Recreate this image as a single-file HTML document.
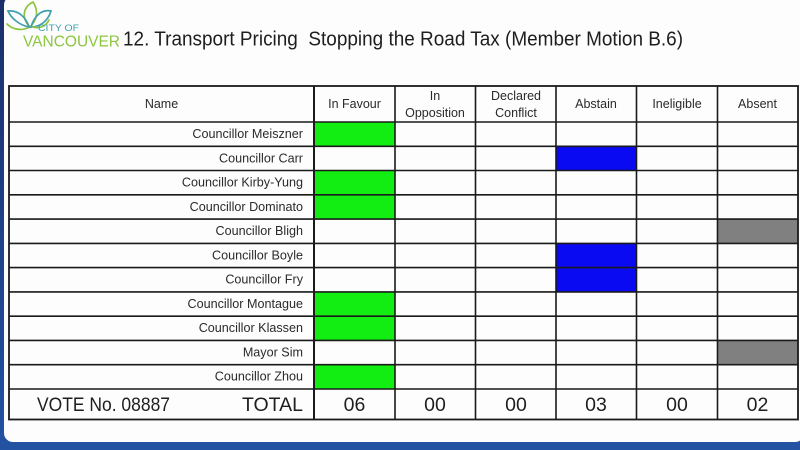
<!DOCTYPE html>
<html><head><meta charset="utf-8"><style>
html,body{margin:0;padding:0;width:800px;height:450px;overflow:hidden;background:#1d3d86;}
svg{display:block;font-family:"Liberation Sans","DejaVu Sans",sans-serif;}
</style></head><body>
<svg width="800" height="450" viewBox="0 0 800 450" xmlns="http://www.w3.org/2000/svg">
<defs>
<linearGradient id="bg" x1="0" y1="0" x2="0" y2="1">
<stop offset="0" stop-color="#1a2f6a"/><stop offset="1" stop-color="#2352a3"/>
</linearGradient>
</defs>
<rect x="0" y="0" width="800" height="450" fill="url(#bg)"/>
<rect x="4" y="-4" width="800" height="446" rx="9" fill="#fdfdfd"/>

<!-- logo leaves -->
<g fill="none" stroke-width="1.7" stroke-linecap="round">
<path d="M30 27 C21 18 23 7 33 2 C39 11 37 20 30 27Z" stroke="#8cc63f"/>
<path d="M31 27 C34 16 42 9 51 11 C48 21 40 27 31 27Z" stroke="#3f9fae"/>
<path d="M29 27 C19 25 11 18 8 11 C18 10 26 17 29 27Z" stroke="#3f9fae"/>
<path d="M28 28 C20 31 12 29 7 24" stroke="#8cc63f"/>
<path d="M33 27 C40 29 46 26 49 20" stroke="#8cc63f"/>
</g>
<text x="38" y="31" font-size="9.5" fill="#3f9fae" textLength="41" lengthAdjust="spacingAndGlyphs">CITY OF</text>
<text x="23" y="46.5" font-size="16" fill="#8cc63f" textLength="97" lengthAdjust="spacingAndGlyphs">VANCOUVER</text>

<text x="123" y="45.5" font-size="20.5" fill="#1e1e1e" xml:space="preserve" textLength="560" lengthAdjust="spacingAndGlyphs">12. Transport Pricing  Stopping the Road Tax (Member Motion B.6)</text>

<!-- colored cells -->
<g>
<rect x="314" y="122" width="81" height="24.3" fill="#12ee12"/>
<rect x="556" y="146.3" width="80.5" height="24.2" fill="#0a0af2"/>
<rect x="314" y="170.5" width="81" height="24.3" fill="#12ee12"/>
<rect x="314" y="194.8" width="81" height="24.3" fill="#12ee12"/>
<rect x="717.5" y="219.1" width="80.5" height="24.3" fill="#808080"/>
<rect x="556" y="243.4" width="80.5" height="24.2" fill="#0a0af2"/>
<rect x="556" y="267.6" width="80.5" height="24.3" fill="#0a0af2"/>
<rect x="314" y="291.9" width="81" height="24.3" fill="#12ee12"/>
<rect x="314" y="316.2" width="81" height="24.2" fill="#12ee12"/>
<rect x="717.5" y="340.4" width="80.5" height="24.3" fill="#808080"/>
<rect x="314" y="364.7" width="81" height="24.3" fill="#12ee12"/>
</g>

<!-- grid -->
<g stroke="#1a1a1a" stroke-width="1.6" fill="none">
<rect x="9" y="86" width="789" height="333.5" stroke-width="1.8"/>
<line x1="9" y1="122" x2="798" y2="122"/>
<line x1="9" y1="146.3" x2="798" y2="146.3"/>
<line x1="9" y1="170.5" x2="798" y2="170.5"/>
<line x1="9" y1="194.8" x2="798" y2="194.8"/>
<line x1="9" y1="219.1" x2="798" y2="219.1"/>
<line x1="9" y1="243.4" x2="798" y2="243.4"/>
<line x1="9" y1="267.6" x2="798" y2="267.6"/>
<line x1="9" y1="291.9" x2="798" y2="291.9"/>
<line x1="9" y1="316.2" x2="798" y2="316.2"/>
<line x1="9" y1="340.4" x2="798" y2="340.4"/>
<line x1="9" y1="364.7" x2="798" y2="364.7"/>
<line x1="9" y1="389" x2="798" y2="389"/>
<line x1="314" y1="86" x2="314" y2="419.5" stroke-width="2"/>
<line x1="395" y1="86" x2="395" y2="419.5"/>
<line x1="475.5" y1="86" x2="475.5" y2="419.5"/>
<line x1="556" y1="86" x2="556" y2="419.5"/>
<line x1="636.5" y1="86" x2="636.5" y2="419.5"/>
<line x1="717.5" y1="86" x2="717.5" y2="419.5"/>
</g>

<!-- header -->
<g font-size="12.5" fill="#2a2a2a" text-anchor="middle">
<text x="161.5" y="108">Name</text>
<text x="354.5" y="108">In Favour</text>
<text x="435" y="100">In</text>
<text x="435" y="117">Opposition</text>
<text x="516" y="100">Declared</text>
<text x="516" y="117">Conflict</text>
<text x="596" y="108">Abstain</text>
<text x="677" y="108">Ineligible</text>
<text x="757.5" y="108">Absent</text>
</g>

<!-- names -->
<g font-size="12.6" fill="#2a2a2a" text-anchor="end">
<text x="303" y="138">Councillor Meiszner</text>
<text x="303" y="162.3">Councillor Carr</text>
<text x="303" y="186.5">Councillor Kirby-Yung</text>
<text x="303" y="210.8">Councillor Dominato</text>
<text x="303" y="235.1">Councillor Bligh</text>
<text x="303" y="259.4">Councillor Boyle</text>
<text x="303" y="283.6">Councillor Fry</text>
<text x="303" y="307.9">Councillor Montague</text>
<text x="303" y="332.2">Councillor Klassen</text>
<text x="303" y="356.4">Mayor Sim</text>
<text x="303" y="380.7">Councillor Zhou</text>
</g>

<!-- totals -->
<g font-size="19.5" fill="#1e1e1e">
<text x="37" y="411" textLength="133" lengthAdjust="spacingAndGlyphs">VOTE No. 08887</text>
<text x="303" y="411" text-anchor="end">TOTAL</text>
<g text-anchor="middle">
<text x="354.5" y="411">06</text>
<text x="435" y="411">00</text>
<text x="516" y="411">00</text>
<text x="596" y="411">03</text>
<text x="677" y="411">00</text>
<text x="757.5" y="411">02</text>
</g>
</g>
</svg>
</body></html>
